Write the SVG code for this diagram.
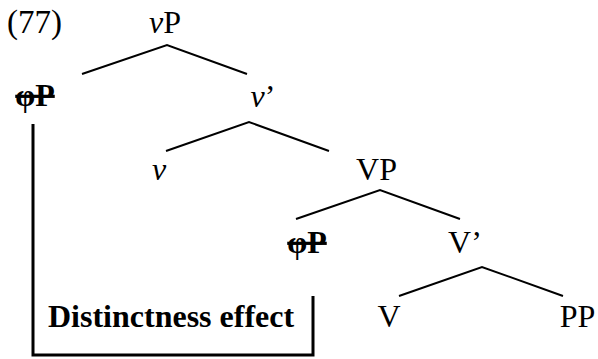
<svg xmlns="http://www.w3.org/2000/svg" width="598" height="359" viewBox="0 0 598 359">
<style>
text { font-family: "Liberation Serif", "Times New Roman", serif; font-size: 32px; fill: #000; text-anchor: middle; }
.it { font-style: italic; }
.b { font-weight: bold; }
.del { font-weight: bold; text-decoration: line-through; }
.start { text-anchor: start; }
.edge { stroke: #000; stroke-width: 2; fill: none; stroke-linecap: butt; }
.bracket { stroke: #000; stroke-width: 3; fill: none; }
</style>
<rect width="598" height="359" fill="#fff"/>
<g id="label-77"><text class="start" x="7" y="33" style="font-size:33px">(77)</text></g>
<g id="vP"><text x="165" y="33"><tspan class="it">v</tspan>P</text></g>
<g id="phiP-spec"><text class="del" x="35" y="106">φP</text></g>
<g id="v-bar"><text x="263" y="107"><tspan class="it">v</tspan>’</text></g>
<g id="v-head"><text class="it" x="159" y="180">v</text></g>
<g id="VP"><text x="376.5" y="180">VP</text></g>
<g id="phiP-low"><text class="del" x="307" y="253">φP</text></g>
<g id="V-bar"><text x="465" y="253">V’</text></g>
<g id="V-head"><text x="389" y="327">V</text></g>
<g id="PP"><text x="577.5" y="327">PP</text></g>
<g id="distinctness"><text class="b start" x="48" y="327">Distinctness effect</text></g>
<g id="connectors">
<polyline class="edge" points="82,74 167,45 247,74"/>
<polyline class="edge" points="166,151 249,122 329,151"/>
<polyline class="edge" points="296,219 380,190 460,219"/>
<polyline class="edge" points="399,296 482,267 563,296"/>
<polyline class="bracket" points="33,124 33,355 313,355 313,296"/>
</g>
</svg>
